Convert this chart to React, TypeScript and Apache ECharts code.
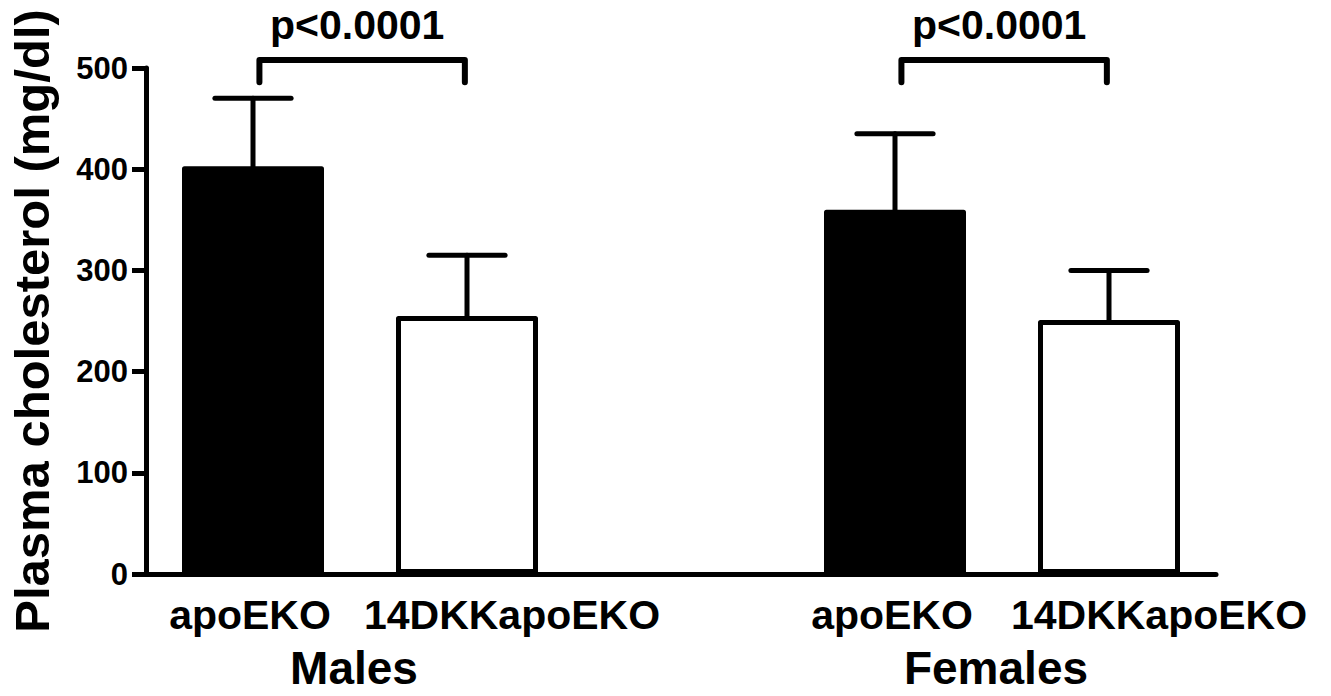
import React, { useEffect, useRef } from "react";
import * as echarts from "echarts";

const categories = ["apoEKO", "14DKKapoEKO", "", "apoEKO", "14DKKapoEKO"];
const means: (number | null)[] = [403, 255, null, 360, 251];
const sems: (number | null)[] = [67, 60, null, 75, 49];
const groupLabels = ["", "Males", "", "", "Females", ""];
const pairFrom = [0, 3];
const pairTo = [1, 4];
const pairTop = [508, 508];
const pairBottom = [486, 486];
const pLabels = ["p<0.0001", "p<0.0001"];
const yTitle = "Plasma cholesterol (mg/dl)";

const FONT = "'Liberation Sans', Arial, Helvetica, sans-serif";
const genotypeFill: Record<string, string> = { apoEKO: "#000000", "14DKKapoEKO": "#ffffff" };

export default function App() {
  const ref = useRef<HTMLDivElement>(null);
  useEffect(() => {
    document.body.style.margin = "0";
    if (!ref.current) return;
    const chart = echarts.init(ref.current, undefined, { renderer: "svg" });

    const barData = means.map((v, i) =>
      v == null
        ? "-"
        : {
            value: v,
            itemStyle: {
              color: genotypeFill[categories[i]],
              borderColor: "#000",
              borderWidth: 5,
              borderJoin: "round",
            },
          }
    );
    const errData: number[][] = [];
    means.forEach((v, i) => {
      if (v != null && sems[i] != null) errData.push([i, v, sems[i] as number]);
    });
    const pairData = pairFrom.map((f, k) => [f, pairTo[k], pairTop[k], pairBottom[k], k]);

    const catText = { color: "#000", fontSize: 41, fontWeight: "bold", fontFamily: FONT };
    const grpText = { color: "#000", fontSize: 46, fontWeight: "bold", fontFamily: FONT };

    const option: any = {
      animation: false,
      grid: { left: 146, right: 115, top: 68, bottom: 122, containLabel: false, outerBoundsMode: "none" },
      xAxis: [
        {
          type: "category",
          data: categories,
          axisLine: { lineStyle: { color: "#000", width: 5, cap: "round" } },
          axisTick: { show: false },
          splitLine: { show: false },
          axisLabel: {
            interval: 0,
            ...catText,
            margin: 20,
            formatter: (v: string, i: number) =>
              i === 1 ? `{m|${v}}` : i === 4 ? `{f|${v}}` : `{a|${v}}`,
            rich: {
              a: { ...catText, padding: [0, 6, 0, 0] },
              m: { ...catText, padding: [0, 0, 0, 90] },
              f: { ...catText, padding: [0, 0, 0, 100] },
            },
          },
        },
        {
          type: "category",
          data: groupLabels,
          boundaryGap: false,
          position: "bottom",
          axisLine: { show: false },
          axisTick: { show: false },
          splitLine: { show: false },
          axisLabel: {
            interval: 0,
            ...grpText,
            margin: 71,
            formatter: (v: string) => (v ? `{g|${v}}` : ""),
            rich: { g: { ...grpText, padding: [0, 12, 0, 0] } },
          },
        },
      ],
      yAxis: {
        type: "value",
        min: 0,
        max: 500,
        interval: 100,
        splitLine: { show: false },
        axisLine: { show: true, lineStyle: { color: "#000", width: 5 } },
        axisTick: { show: true, length: 14, lineStyle: { color: "#000", width: 5 } },
        axisLabel: { color: "#000", fontSize: 31, fontWeight: "bold", fontFamily: FONT, margin: 18 },
        name: yTitle,
        nameLocation: "middle",
        nameGap: 90,
        nameRotate: 90,
        nameTextStyle: { color: "#000", fontSize: 49, fontWeight: "bold", fontFamily: FONT },
      },
      series: [
        {
          type: "bar",
          xAxisIndex: 0,
          barWidth: 142,
          data: barData,
          z: 2,
        },
        {
          type: "custom",
          xAxisIndex: 0,
          encode: { x: 0, y: 1 },
          data: errData,
          z: 3,
          renderItem: (params: any, api: any) => {
            const x = api.value(0);
            const m = api.value(1);
            const e = api.value(2);
            const p0 = api.coord([x, m]);
            const p1 = api.coord([x, m + e]);
            const half = api.size([1, 0])[0] * 0.178;
            const style = { stroke: "#000", lineWidth: 5, lineCap: "round" };
            return {
              type: "group",
              children: [
                { type: "line", shape: { x1: p0[0], y1: p0[1], x2: p1[0], y2: p1[1] }, style },
                { type: "line", shape: { x1: p1[0] - half, y1: p1[1], x2: p1[0] + half, y2: p1[1] }, style },
              ],
            };
          },
        },
        {
          type: "custom",
          xAxisIndex: 0,
          encode: { x: 0, y: 2 },
          data: pairData,
          z: 3,
          clip: false,
          renderItem: (params: any, api: any) => {
            const band = api.size([1, 0])[0];
            const a = api.coord([api.value(0), api.value(2)]);
            const b = api.coord([api.value(1), api.value(3)]);
            const xl = a[0] + band * 0.03;
            const xr = b[0] - band * 0.01;
            const yt = a[1];
            const yb = b[1];
            const k = api.value(4);
            const style = { stroke: "#000", lineWidth: 6, lineCap: "round", lineJoin: "round", fill: "none" };
            return {
              type: "group",
              children: [
                {
                  type: "polyline",
                  shape: { points: [[xl, yb], [xl, yt], [xr, yt], [xr, yb]] },
                  style,
                },
                {
                  type: "text",
                  x: (xl + xr) / 2 - 5,
                  y: yt - 14,
                  style: {
                    text: pLabels[k],
                    fill: "#000",
                    font: `bold 41px ${FONT}`,
                    align: "center",
                    verticalAlign: "bottom",
                  },
                },
              ],
            };
          },
        },
      ],
    };
    chart.setOption(option);
    return () => chart.dispose();
  }, []);
  return <div ref={ref} style={{ width: 1331, height: 696 }} />;
}
